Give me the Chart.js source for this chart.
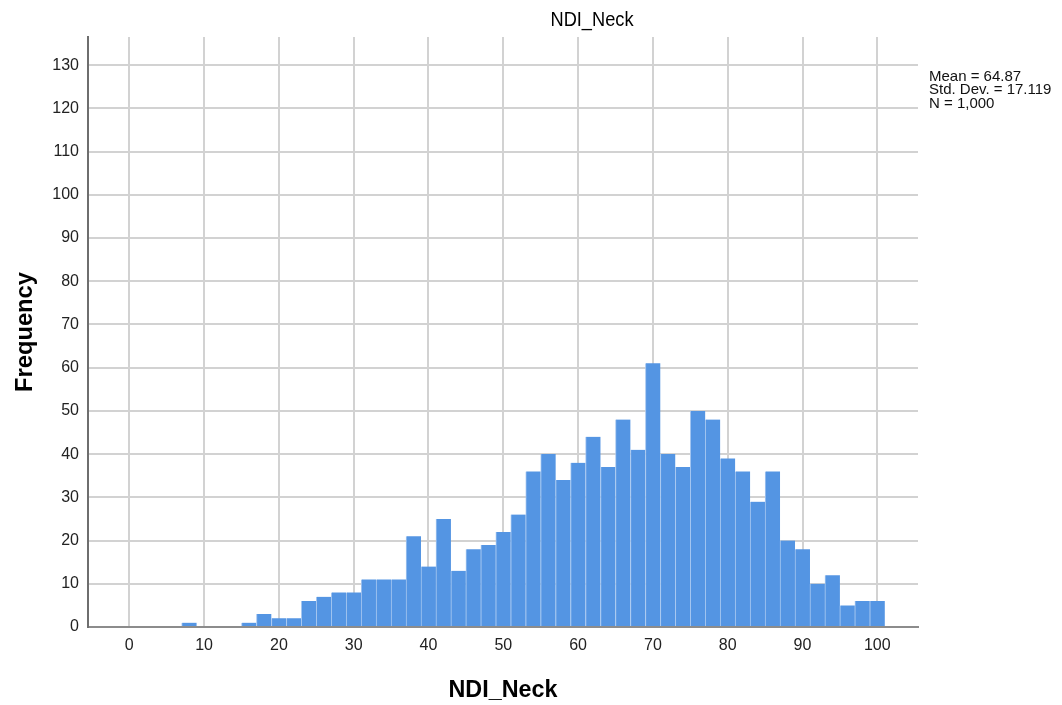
<!DOCTYPE html>
<html>
<head>
<meta charset="utf-8">
<title>NDI_Neck</title>
<script src="https://cdn.jsdelivr.net/npm/chart.js@4.4.1/dist/chart.umd.min.js"></script>
<style>
  html, body { margin: 0; padding: 0; background: #ffffff; }
  #wrap { width: 1062px; height: 705px; position: relative; }
  canvas { display: block; }
</style>
</head>
<body>
<div id="wrap"><canvas id="hist" width="1062" height="705"></canvas></div>
<script>
// Histogram of NDI_Neck scores: bin centres (width 2) and their frequencies
const binCenters = [8, 16, 18, 20, 22, 24, 26, 28, 30, 32, 34, 36, 38, 40, 42, 44, 46, 48, 50,
  52, 54, 56, 58, 60, 62, 64, 66, 68, 70, 72, 74, 76, 78, 80, 82, 84, 86, 88, 90, 92, 94, 96, 98, 100];
const frequencies = [1, 1, 3, 2, 2, 6, 7, 8, 8, 11, 11, 11, 21, 14, 25, 13, 18, 19, 22,
  26, 36, 40, 34, 38, 44, 37, 48, 41, 61, 40, 37, 50, 48, 39, 36, 29, 36, 20, 18, 10, 12, 5, 6, 6];

const xTickValues = [0, 10, 20, 30, 40, 50, 60, 70, 80, 90, 100];
const yTickValues = [0, 10, 20, 30, 40, 50, 60, 70, 80, 90, 100, 110, 120, 130];

const chartTitle = 'NDI_Neck';
const xTitle = 'NDI_Neck';
const yTitle = 'Frequency';
const statLines = ['Mean = 64.87', 'Std. Dev. = 17.119', 'N = 1,000'];

const FONT = '"Liberation Sans", Arial, Helvetica, sans-serif';

const points = binCenters.map((c, i) => ({ x: c, y: frequencies[i] }));

// draw text squeezed/stretched horizontally to a given width
function fittedText(ctx, text, x, y, font, width, align, rotate) {
  ctx.save();
  ctx.font = font;
  const w = ctx.measureText(text).width;
  const sx = width / w;
  ctx.translate(x, y);
  if (rotate) ctx.rotate(rotate);
  ctx.scale(sx, 1);
  ctx.textAlign = align;
  ctx.textBaseline = 'alphabetic';
  ctx.fillStyle = '#000000';
  ctx.fillText(text, 0, 0);
  ctx.restore();
}

const annotations = {
  id: 'annotations',
  afterDraw(chart) {
    const ctx = chart.ctx;
    const area = chart.chartArea;
    fittedText(ctx, chartTitle, 592, 26, '20px ' + FONT, 83, 'center');
    fittedText(ctx, xTitle, (area.left + area.right) / 2, 697, 'bold 23px ' + FONT, 109, 'center');
    fittedText(ctx, yTitle, 32, (area.top + area.bottom) / 2, 'bold 24px ' + FONT, 120, 'center', -Math.PI / 2);
    ctx.save();
    ctx.font = '15px ' + FONT;
    ctx.fillStyle = '#111111';
    ctx.textAlign = 'left';
    ctx.textBaseline = 'alphabetic';
    statLines.forEach((s, i) => ctx.fillText(s, area.right + 11, 80.5 + i * 13.8));
    ctx.restore();
  }
};

new Chart(document.getElementById('hist'), {
  type: 'bar',
  data: {
    datasets: [{
      data: points,
      backgroundColor: '#5495e3',
      borderColor: '#a6c7f0',
      borderWidth: { left: 1, right: 0, top: 0, bottom: 0 },
      borderSkipped: false,
      barPercentage: 1,
      categoryPercentage: 1
    }]
  },
  options: {
    responsive: false,
    animation: false,
    devicePixelRatio: 1,
    layout: { padding: { top: 37, right: 144, left: 0, bottom: 0 } },
    plugins: { legend: { display: false }, tooltip: { enabled: false }, title: { display: false } },
    scales: {
      x: {
        type: 'linear',
        offset: false,
        min: -5.52,
        max: 105.44,
        afterFit: s => { s.height = 78; },
        afterBuildTicks: s => { s.ticks = xTickValues.map(v => ({ value: v })); },
        ticks: {
          includeBounds: false,
          padding: 9,
          color: '#222222',
          font: { family: FONT, size: 16 },
          maxRotation: 0,
          autoSkip: false
        },
        grid: { color: '#d2d2d2', lineWidth: 2, drawTicks: false, offset: false },
        border: { display: true, color: '#8c8c8c', width: 2 }
      },
      y: {
        min: 0,
        max: 136.5,
        afterFit: s => { s.width = 88; },
        afterBuildTicks: s => { s.ticks = yTickValues.map(v => ({ value: v })); },
        ticks: {
          includeBounds: false,
          padding: 9,
          color: '#222222',
          font: { family: FONT, size: 16 },
          autoSkip: false
        },
        grid: { color: '#d2d2d2', lineWidth: 2, drawTicks: false },
        border: { display: true, color: '#6e6e6e', width: 2 }
      }
    }
  },
  plugins: [annotations]
});
</script>
</body>
</html>
